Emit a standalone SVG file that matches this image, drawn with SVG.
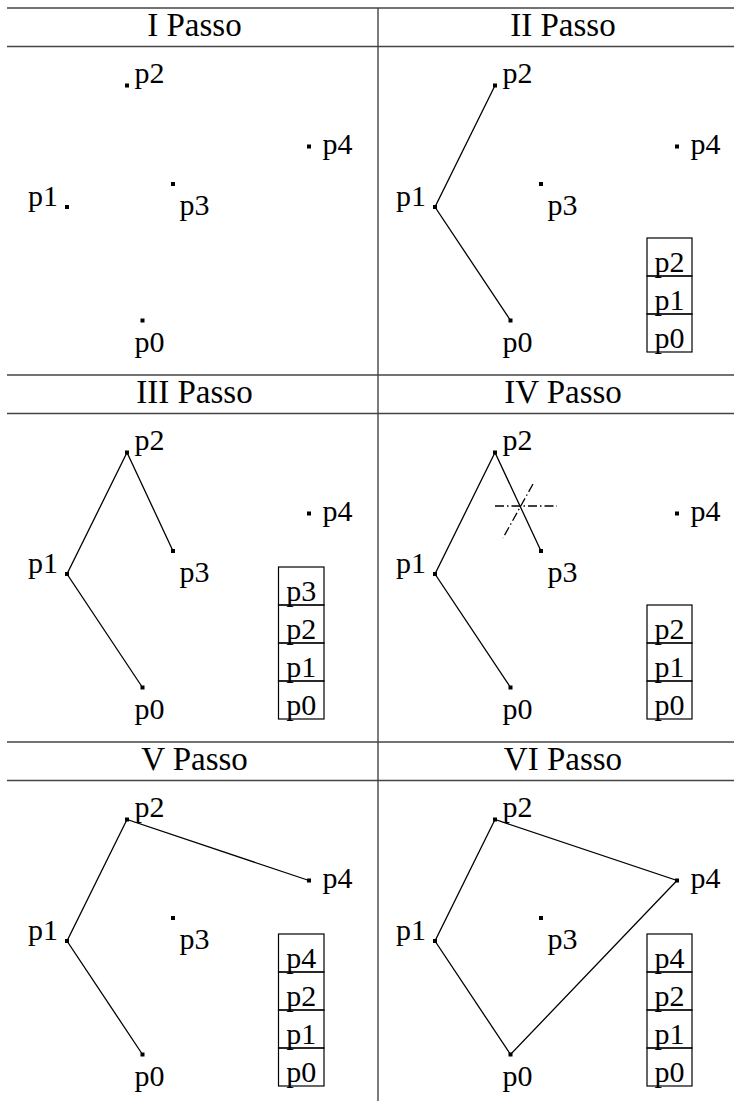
<svg xmlns="http://www.w3.org/2000/svg" xmlns:xlink="http://www.w3.org/1999/xlink" width="734" height="1101" viewBox="0 0 734 1101">
<style>
  .grid { stroke: #444; stroke-width: 1.4; fill: none; }
  text { font-family: 'Liberation Serif', 'Times New Roman', serif; fill: #000; }
  .hdr { font-size: 33px; text-anchor: middle; }
  .lbl { font-size: 30px; }
  .stk { font-size: 30px; text-anchor: middle; }
  .cell { fill: none; stroke: #000; stroke-width: 1.2; }
  .edge { stroke: #000; stroke-width: 1.3; fill: none; }
  .dd { stroke: #000; stroke-width: 1.3; fill: none; stroke-dasharray: 9 3 1.5 3; }
  .dot { fill: #000; }
</style>
<defs>
  <g id="pts">
    <rect class="dot" x="125" y="83.5" width="4" height="4"/>
    <rect class="dot" x="307" y="144.5" width="4" height="4"/>
    <rect class="dot" x="65" y="205" width="4" height="4"/>
    <rect class="dot" x="171" y="182" width="4" height="4"/>
    <rect class="dot" x="140.5" y="318.5" width="4" height="4"/>
    <text class="lbl" x="134.5" y="82.5">p2</text>
    <text class="lbl" x="322.5" y="154">p4</text>
    <text class="lbl" x="28" y="206">p1</text>
    <text class="lbl" x="179.5" y="215">p3</text>
    <text class="lbl" x="134.5" y="352">p0</text>
  </g>
</defs>

<g id="table">
  <line class="grid" x1="7" y1="8" x2="734" y2="8"/>
  <line class="grid" x1="7" y1="46.5" x2="734" y2="46.5"/>
  <line class="grid" x1="7" y1="375" x2="734" y2="375"/>
  <line class="grid" x1="7" y1="413.5" x2="734" y2="413.5"/>
  <line class="grid" x1="7" y1="742" x2="734" y2="742"/>
  <line class="grid" x1="7" y1="780.5" x2="734" y2="780.5"/>
  <line class="grid" x1="378" y1="8" x2="378" y2="1101"/>
  <text class="hdr" x="194.5" y="36">I Passo</text>
  <text class="hdr" x="563" y="36">II Passo</text>
  <text class="hdr" x="194.5" y="403">III Passo</text>
  <text class="hdr" x="563" y="403">IV Passo</text>
  <text class="hdr" x="194.5" y="770">V Passo</text>
  <text class="hdr" x="563" y="770">VI Passo</text>
</g>

<g id="connectors">
  <g transform="translate(368,0)">
    <polyline class="edge" points="127,85.5 67,207 142.5,320.5"/>
  </g>
  <g transform="translate(0,367)">
    <polyline class="edge" points="142.5,320.5 67,207 127,85.5 173,184"/>
  </g>
  <g transform="translate(368,367)">
    <polyline class="edge" points="142.5,320.5 67,207 127,85.5 173,184"/>
  </g>
  <line class="dd" x1="495" y1="506" x2="557" y2="506"/>
  <line class="dd" x1="533" y1="484" x2="503" y2="538"/>
  <g transform="translate(0,734)">
    <polyline class="edge" points="142.5,320.5 67,207 127,85.5 309,146.5"/>
  </g>
  <g transform="translate(368,734)">
    <polygon class="edge" points="142.5,320.5 67,207 127,85.5 309,146.5"/>
  </g>
</g>

<g id="panel-1"><use xlink:href="#pts"/></g>
<g id="panel-2" transform="translate(368,0)"><use xlink:href="#pts"/></g>
<g id="panel-3" transform="translate(0,367)"><use xlink:href="#pts"/></g>
<g id="panel-4" transform="translate(368,367)"><use xlink:href="#pts"/></g>
<g id="panel-5" transform="translate(0,734)"><use xlink:href="#pts"/></g>
<g id="panel-6" transform="translate(368,734)"><use xlink:href="#pts"/></g>

<g id="stack-2">
  <rect class="cell" x="647" y="238" width="45" height="38"/>
  <rect class="cell" x="647" y="276" width="45" height="38"/>
  <rect class="cell" x="647" y="314" width="45" height="38"/>
  <text class="stk" x="669.5" y="272">p2</text>
  <text class="stk" x="669.5" y="310">p1</text>
  <text class="stk" x="669.5" y="348">p0</text>
</g>
<g id="stack-3">
  <rect class="cell" x="278.5" y="567" width="45.5" height="38"/>
  <rect class="cell" x="278.5" y="605" width="45.5" height="38"/>
  <rect class="cell" x="278.5" y="643" width="45.5" height="38"/>
  <rect class="cell" x="278.5" y="681" width="45.5" height="38"/>
  <text class="stk" x="301.2" y="601">p3</text>
  <text class="stk" x="301.2" y="639">p2</text>
  <text class="stk" x="301.2" y="677">p1</text>
  <text class="stk" x="301.2" y="715">p0</text>
</g>
<g id="stack-4">
  <rect class="cell" x="647" y="605" width="45" height="38"/>
  <rect class="cell" x="647" y="643" width="45" height="38"/>
  <rect class="cell" x="647" y="681" width="45" height="38"/>
  <text class="stk" x="669.5" y="639">p2</text>
  <text class="stk" x="669.5" y="677">p1</text>
  <text class="stk" x="669.5" y="715">p0</text>
</g>
<g id="stack-5">
  <rect class="cell" x="278.5" y="934" width="45.5" height="38"/>
  <rect class="cell" x="278.5" y="972" width="45.5" height="38"/>
  <rect class="cell" x="278.5" y="1010" width="45.5" height="38"/>
  <rect class="cell" x="278.5" y="1048" width="45.5" height="38"/>
  <text class="stk" x="301.2" y="968">p4</text>
  <text class="stk" x="301.2" y="1006">p2</text>
  <text class="stk" x="301.2" y="1044">p1</text>
  <text class="stk" x="301.2" y="1082">p0</text>
</g>
<g id="stack-6">
  <rect class="cell" x="647" y="934" width="45" height="38"/>
  <rect class="cell" x="647" y="972" width="45" height="38"/>
  <rect class="cell" x="647" y="1010" width="45" height="38"/>
  <rect class="cell" x="647" y="1048" width="45" height="38"/>
  <text class="stk" x="669.5" y="968">p4</text>
  <text class="stk" x="669.5" y="1006">p2</text>
  <text class="stk" x="669.5" y="1044">p1</text>
  <text class="stk" x="669.5" y="1082">p0</text>
</g>
</svg>
